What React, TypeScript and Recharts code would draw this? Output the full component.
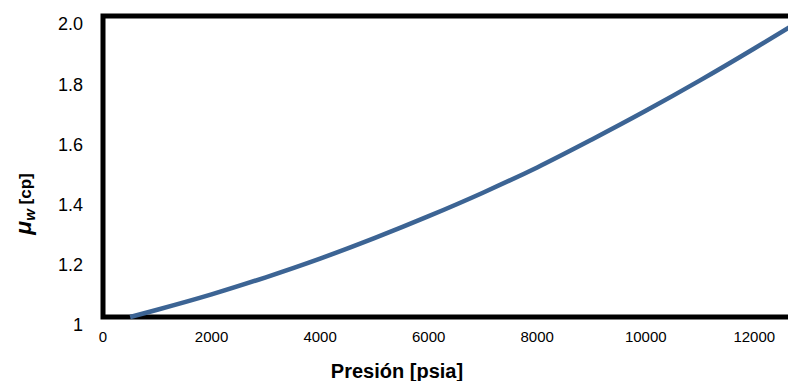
import { LineChart, Line, XAxis, YAxis, ReferenceArea, Label } from 'recharts';

// ============================================================================
// Data
// ============================================================================

const PRESSURES = [500, 1000, 2000, 3000, 4000, 5000, 6000, 7000, 8000, 9000, 10000, 11000, 12000, 12750];
const VISCOSITY = [1.0, 1.024, 1.075, 1.132, 1.194, 1.262, 1.335, 1.413, 1.497, 1.589, 1.685, 1.786, 1.892, 1.974];
const X_TICKS = [0, 2000, 4000, 6000, 8000, 10000, 12000];
const Y_TICKS = [1, 1.2, 1.4, 1.6, 1.8, 2.0];

const data = PRESSURES.map((p, i) => ({ p, mu: VISCOSITY[i] }));

const FONT = '"Liberation Sans", Arial, sans-serif';
const LINE_COLOR = '#3c6494';

const YTitle = () => (
  <text x={31} y={204} transform="rotate(-90, 31, 204)" textAnchor="middle" fontFamily={FONT} fill="#000" fontWeight="bold">
    <tspan fontSize={23} fontStyle="italic">μ</tspan>
    <tspan fontSize={15} fontStyle="italic" dy={4}>w</tspan>
    <tspan fontSize={17} dy={-4}> [cp]</tspan>
  </text>
);

export default function App() {
  return (
    <div style={{ position: 'fixed', left: 0, top: 0, width: 788, height: 381, overflow: 'hidden', background: '#fff' }}>
      <LineChart width={800} height={381} data={data} margin={{ top: 16, right: 5, bottom: 0, left: 0 }}>
        <XAxis
          dataKey="p"
          type="number"
          domain={[0, 12750]}
          ticks={X_TICKS}
          axisLine={false}
          tickLine={false}
          tickSize={0}
          tickMargin={14}
          height={64}
          tick={{ fontSize: 15, fill: '#000', fontFamily: FONT }}
        >
          <Label
            value="Presión [psia]"
            position="insideBottom"
            offset={3}
            dx={-52}
            style={{ fontSize: 20, fontWeight: 'bold', fill: '#000', fontFamily: FONT }}
          />
        </XAxis>
        <YAxis
          type="number"
          domain={[1, 2]}
          ticks={Y_TICKS}
          tickFormatter={(v: number) => (v === 1 ? '1' : v.toFixed(1))}
          axisLine={false}
          tickLine={false}
          tickSize={0}
          tickMargin={20}
          width={103}
          tick={{ fontSize: 18, fill: '#000', fontFamily: FONT, dy: 8 }}
        >
          <Label content={<YTitle />} />
        </YAxis>
        <ReferenceArea x1={0} x2={12750} y1={1} y2={2} fill="none" stroke="#000" strokeWidth={5} />
        <Line
          type="monotone"
          dataKey="mu"
          stroke={LINE_COLOR}
          strokeWidth={4.5}
          dot={false}
          isAnimationActive={false}
        />
      </LineChart>
    </div>
  );
}
